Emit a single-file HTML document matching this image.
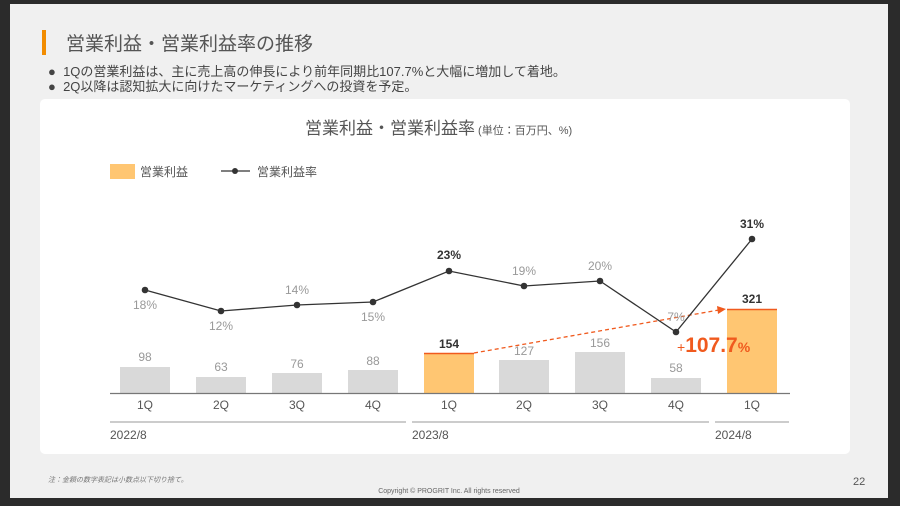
<!DOCTYPE html>
<html><head><meta charset="utf-8"><style>
*{margin:0;padding:0}
body{width:900px;height:506px;background:#2b2b2b;position:relative;overflow:hidden;font-family:"Liberation Sans","Noto Sans CJK JP",sans-serif}
.slide{position:absolute;left:10px;top:4px;width:878px;height:494px;background:#f0f0f0}
.card{position:absolute;left:40px;top:99px;width:810px;height:355px;background:#fff;border-radius:5px}
.t{position:absolute;white-space:nowrap;color:#444}
</style></head><body>
<div class="slide"></div>
<div style="position:absolute;left:42px;top:30px;width:4px;height:25px;background:#f28c00"></div>
<div class="t" style="left:66px;top:29px;font-size:19px;color:#555">営業利益・営業利益率の推移</div>
<div class="t" style="left:48px;top:64px;font-size:13px;line-height:15px;color:#444">●&nbsp; 1Qの営業利益は、主に売上高の伸長により前年同期比107.7%と大幅に増加して着地。<br>●&nbsp; 2Q以降は認知拡大に向けたマーケティングへの投資を予定。</div>
<div class="card"></div>
<div class="t" style="left:305px;top:114px;font-size:17px;color:#555">営業利益・営業利益率<span style="font-size:11px"> (単位：百万円、%)</span></div>
<div style="position:absolute;left:110px;top:164px;width:25px;height:15px;background:#ffc672"></div>
<div class="t" style="left:140px;top:163px;font-size:12px;color:#555">営業利益</div>
<div class="t" style="left:257px;top:163px;font-size:12px;color:#555">営業利益率</div>
<svg width="900" height="506" style="position:absolute;left:0;top:0" font-family="Liberation Sans, sans-serif">
<line x1="221" y1="171" x2="250" y2="171" stroke="#333" stroke-width="1.3"/><circle cx="235" cy="171" r="3" fill="#333"/>
<g fill="#d9d9d9">
<rect x="120" y="367" width="50" height="26"/><rect x="196" y="377" width="50" height="16"/>
<rect x="272" y="373" width="50" height="20"/><rect x="348" y="370" width="50" height="23"/>
<rect x="499" y="360" width="50" height="33"/><rect x="575" y="352" width="50" height="41"/>
<rect x="651" y="378" width="50" height="15"/></g>
<rect x="424" y="353" width="50" height="40" fill="#ffc672"/><line x1="424" y1="353.5" x2="474" y2="353.5" stroke="#f05a1e" stroke-width="1.5"/>
<rect x="727" y="309" width="50" height="84" fill="#ffc672"/><line x1="727" y1="309.5" x2="777" y2="309.5" stroke="#f05a1e" stroke-width="1.5"/>
<line x1="110" y1="393.5" x2="790" y2="393.5" stroke="#777" stroke-width="1.3"/>
<g stroke="#999" stroke-width="1"><line x1="110" y1="422" x2="406" y2="422"/><line x1="412" y1="422" x2="709" y2="422"/><line x1="715" y1="422" x2="789" y2="422"/></g>
<line x1="474" y1="353" x2="719" y2="310" stroke="#f05a1e" stroke-width="1.3" stroke-dasharray="4,3"/>
<polygon points="726,309 717,306 718,314" fill="#f05a1e"/>
<polyline points="145,290 221,311 297,305 373,302 449,271 524,286 600,281 676,332 752,239" fill="none" stroke="#333" stroke-width="1.3"/>
<g fill="#333"><circle cx="145" cy="290" r="3.3"/><circle cx="221" cy="311" r="3.3"/><circle cx="297" cy="305" r="3.3"/><circle cx="373" cy="302" r="3.3"/><circle cx="449" cy="271" r="3.3"/><circle cx="524" cy="286" r="3.3"/><circle cx="600" cy="281" r="3.3"/><circle cx="676" cy="332" r="3.3"/><circle cx="752" cy="239" r="3.3"/></g>
<g font-size="12" fill="#999" text-anchor="middle">
<text x="145" y="309">18%</text><text x="221" y="330">12%</text><text x="297" y="294">14%</text><text x="373" y="321">15%</text>
<text x="524" y="275">19%</text><text x="600" y="270">20%</text><text x="676" y="321">7%</text>
<text x="145" y="361">98</text><text x="221" y="371">63</text><text x="297" y="368">76</text><text x="373" y="365">88</text>
<text x="524" y="355">127</text><text x="600" y="347">156</text><text x="676" y="372">58</text></g>
<g font-size="12" fill="#333" font-weight="bold" text-anchor="middle">
<text x="449" y="259">23%</text><text x="752" y="228">31%</text><text x="449" y="348">154</text><text x="752" y="303">321</text></g>
<text x="677" y="352" fill="#f05a1e" font-weight="bold" font-size="21"><tspan font-size="14" font-weight="normal">+</tspan>107.7<tspan font-size="14">%</tspan></text>
<g font-size="12" fill="#555" text-anchor="middle">
<text x="145" y="409">1Q</text><text x="221" y="409">2Q</text><text x="297" y="409">3Q</text><text x="373" y="409">4Q</text><text x="449" y="409">1Q</text><text x="524" y="409">2Q</text><text x="600" y="409">3Q</text><text x="676" y="409">4Q</text><text x="752" y="409">1Q</text></g>
<g font-size="12" fill="#555"><text x="110" y="439">2022/8</text><text x="412" y="439">2023/8</text><text x="715" y="439">2024/8</text></g>
<text x="853" y="485" font-size="11" fill="#555">22</text>
<text x="449" y="493" font-size="7" fill="#666" text-anchor="middle">Copyright © PROGRIT Inc. All rights reserved</text>
</svg>
<div class="t" style="left:48px;top:475px;font-size:7px;color:#777;font-style:italic">注：金額の数字表記は小数点以下切り捨て。</div>
</body></html>
